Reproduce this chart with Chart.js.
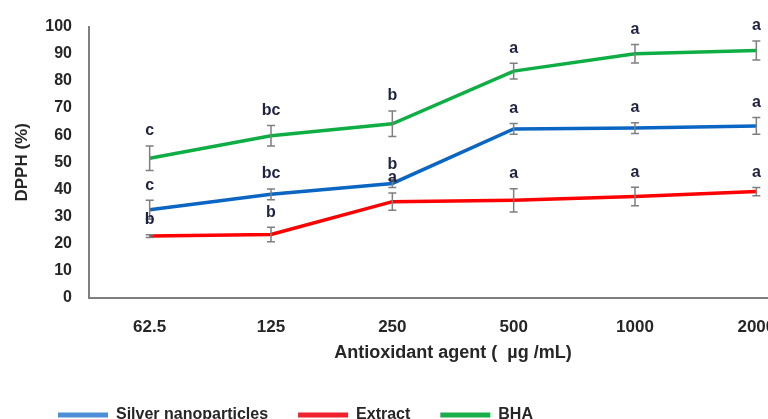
<!DOCTYPE html>
<html>
<head>
<meta charset="utf-8">
<script src="https://cdn.jsdelivr.net/npm/chart.js@4.4.0/dist/chart.umd.min.js"></script>
<style>
    html, body { margin: 0; padding: 0; background: #fff; overflow: hidden; }
    #wrap { position: relative; width: 820px; height: 419px; }
</style>
</head>
<body>
<div id="wrap"><canvas id="myChart"></canvas></div>
<script>
// concentrations (µg/mL)
const categories = ["62.5", "125", "250", "500", "1000", "2000"];

const silverValues = [32.5, 38.2, 42.2, 62.3, 62.6, 63.4];
const silverErrors = [3.5, 2.0, 1.5, 2.0, 2.0, 3.1];
const silverLetters = ["c", "bc", "b", "a", "a", "a"];

const extractValues = [22.8, 23.4, 35.5, 36.0, 37.4, 39.2];
const extractErrors = [0.5, 2.7, 3.2, 4.3, 3.4, 1.5];
const extractLetters = ["b", "b", "a", "a", "a", "a"];

const bhaValues = [51.5, 59.8, 64.2, 83.6, 90.0, 91.2];
const bhaErrors = [4.5, 3.8, 4.7, 2.9, 3.4, 3.5];
const bhaLetters = ["c", "bc", "b", "a", "a", "a"];

const FONT = "'Liberation Sans', Arial, sans-serif";
const TEXT = '#262626';

// error bars + significance letters on top of the lines
const errorBars = {
    id: 'errorBars',
    afterDatasetsDraw(chart) {
        const { ctx, scales: { x, y } } = chart;
        ctx.save();
        chart.data.datasets.forEach((ds) => {
            ds.data.forEach((v, j) => {
                const px = x.getPixelForValue(j);
                const top = y.getPixelForValue(v + ds.errors[j]);
                const bot = y.getPixelForValue(v - ds.errors[j]);
                ctx.strokeStyle = '#7f7f7f';
                ctx.lineWidth = 1.5;
                ctx.beginPath();
                ctx.moveTo(px, top); ctx.lineTo(px, bot);
                ctx.moveTo(px - 4, top); ctx.lineTo(px + 4, top);
                ctx.moveTo(px - 4, bot); ctx.lineTo(px + 4, bot);
                ctx.stroke();
                ctx.fillStyle = '#1f2240';
                ctx.font = 'bold 16px ' + FONT;
                ctx.textAlign = 'center';
                ctx.textBaseline = 'middle';
                ctx.fillText(ds.letters[j], px, top - 15);
            });
        });
        ctx.restore();
    }
};

new Chart(document.getElementById('myChart'), {
    type: 'line',
    data: {
        labels: categories,
        datasets: [{
            label: 'Silver nanoparticles',
            data: silverValues,
            errors: silverErrors,
            letters: silverLetters,
            borderColor: '#0b66c3',
            backgroundColor: '#4d8fd6'
        }, {
            label: 'Extract',
            data: extractValues,
            errors: extractErrors,
            letters: extractLetters,
            borderColor: '#ff0000',
            backgroundColor: '#f0222e'
        }, {
            label: 'BHA',
            data: bhaValues,
            errors: bhaErrors,
            letters: bhaLetters,
            borderColor: '#0fae45',
            backgroundColor: '#1aae4a'
        }]
    },
    options: {
        responsive: true,
        maintainAspectRatio: false,
        animation: false,
        elements: {
            line: { borderWidth: 3.5, tension: 0 },
            point: { radius: 0 }
        },
        layout: { padding: { left: 28, top: 24, right: 3, bottom: -14 } },
        scales: {
            x: {
                offset: true,
                grid: { display: false, drawTicks: false },
                border: { color: '#7f7f7f', width: 2 },
                ticks: { color: TEXT, padding: 19, font: { family: FONT, size: 17, weight: 'bold' } },
                title: {
                    display: true,
                    text: 'Antioxidant agent (  µg /mL)',
                    color: TEXT,
                    padding: { top: -14, bottom: 13 },
                    font: { family: FONT, size: 18, weight: 'bold' }
                }
            },
            y: {
                min: 0,
                max: 100,
                grid: { display: false, drawTicks: false },
                border: { color: '#7f7f7f', width: 2 },
                ticks: { stepSize: 10, color: TEXT, padding: 17, font: { family: FONT, size: 16, weight: 'bold' } },
                title: {
                    display: true,
                    text: 'DPPH (%)',
                    color: TEXT,
                    padding: { top: -16, bottom: 0 },
                    font: { family: FONT, size: 17, weight: 'bold' }
                },
                afterFit(scale) { scale.width = 61; }
            }
        },
        plugins: {
            legend: {
                position: 'bottom',
                align: 'start',
                labels: {
                    boxWidth: 50,
                    boxHeight: 5,
                    padding: 30,
                    color: TEXT,
                    font: { family: FONT, size: 16, weight: 'bold' },
                    // plain line-like swatches, no outline
                    generateLabels(chart) {
                        const items = Chart.defaults.plugins.legend.labels.generateLabels(chart);
                        items.forEach(it => { it.lineWidth = 0; it.strokeStyle = it.fillStyle; });
                        return items;
                    }
                }
            },
            tooltip: { enabled: false }
        }
    },
    plugins: [errorBars]
});
</script>
</body>
</html>
